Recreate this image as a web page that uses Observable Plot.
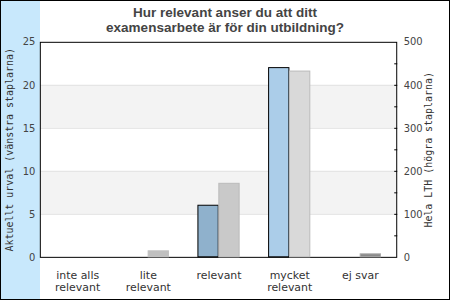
<!DOCTYPE html>
<html><head><meta charset="utf-8">
<script src="https://cdn.jsdelivr.net/npm/d3@7"></script>
<script src="https://cdn.jsdelivr.net/npm/@observablehq/plot@0.6"></script>
<style>
body{margin:0;background:#fff;}
#chart{position:relative;width:450px;height:300px;box-sizing:border-box;border:1px solid #000;overflow:hidden;background:#fff;}
#strip{position:absolute;left:0;top:0;width:39px;height:298px;background:#c8e8fc;}
#title{position:absolute;left:-1px;top:4px;width:450px;text-align:center;font:bold 13.5px "Liberation Sans",Arial,sans-serif;line-height:15px;color:#444;}
.layer{position:absolute;left:-1px;top:-1px;}
</style></head>
<body>
<div id="chart"><div id="strip"></div><div id="title">Hur relevant anser du att ditt<br>examensarbete är för din utbildning?</div></div>
<script>
const categories = ["inte alls relevant","lite relevant","relevant","mycket relevant","ej svar"];
const categoryLabels = ["inte alls\nrelevant","lite\nrelevant","relevant","mycket\nrelevant","ej svar"];
const leftValues = [0, 0, 6, 22, 0];      // Aktuellt urval
const rightValues = [0, 14, 171, 432, 7]; // Hela LTH
const leftTicks = [0, 5, 10, 15, 20, 25];
const rightTicks = [0, 100, 200, 300, 400, 500];
const rightMinorTicks = [50, 100, 150, 200, 250, 300, 350, 400, 450];
const bandRanges = [[5, 10], [15, 20]];
const gridValues = [5, 10, 15, 20];
const leftLabel = "Aktuellt urval (vänstra staplarna)";
const rightLabel = "Hela LTH (högra staplarna)";

const leftFill = ["#8fb1cc","#8fb1cc","#8fb1cc","#abcde9","#8fb1cc"];
const rightFill = ["#c8c8c8","#c0c0c0","#c9c9c9","#d9d9d9","#8a8a8a"];
const rightStroke = ["#bbbbbb","#c0c0c0","#bbbbbb","#bbbbbb","#aaaaaa"];

const W = 450, H = 300;
const margins = {marginTop: 42, marginRight: 52, marginBottom: 42, marginLeft: 40};
const bw = (W - margins.marginLeft - margins.marginRight) / categories.length;
const barW = 21;
const labelMap = new Map(categories.map((c, i) => [c, categoryLabels[i]]));

const leftData = categories.map((c, i) => ({cat: c, v: leftValues[i], i})).filter(d => d.v > 0);
const rightData = categories.map((c, i) => ({cat: c, v: rightValues[i], i})).filter(d => d.v > 0);

const font = "DejaVu Sans";
const leftPlot = Plot.plot({
  width: W, height: H, ...margins,
  style: {background: "transparent", overflow: "visible", fontFamily: font},
  x: {domain: categories, type: "band", padding: 0, axis: null},
  y: {domain: [0, 25], axis: null},
  marks: [
    Plot.rect(bandRanges, {y1: d => d[0], y2: d => d[1], fill: "#f3f3f3"}),
    Plot.ruleY(gridValues, {stroke: "#e2e2e2"}),
    Plot.barY(leftData, {x: "cat", y: "v", fill: d => leftFill[d.i], stroke: "#000", strokeWidth: 1,
      insetLeft: bw / 2 - barW, insetRight: bw / 2}),
    Plot.frame({stroke: "#000"}),
    Plot.axisY({ticks: leftTicks, tickSize: 0, tickPadding: 5, fontSize: 10, fill: "#444", fontFamily: font, label: null}),
    Plot.axisX({tickSize: 0, tickPadding: 13, fontSize: 11, fill: "#333", fontFamily: font, lineHeight: 1.1,
      tickFormat: d => labelMap.get(d), label: null}),
    Plot.text([leftLabel], {frameAnchor: "left", textAnchor: "middle", rotate: -90, dx: -31, fontFamily: "DejaVu Sans Mono", fontSize: 10, fill: "#333"})
  ]
});
leftPlot.classList.add("layer");

const rightPlot = Plot.plot({
  width: W, height: H, ...margins,
  style: {background: "transparent", overflow: "visible", fontFamily: font},
  x: {domain: categories, type: "band", padding: 0, axis: null},
  y: {domain: [0, 500], axis: null},
  marks: [
    Plot.barY(rightData, {x: "cat", y: "v", fill: d => rightFill[d.i], stroke: d => rightStroke[d.i], strokeWidth: 1,
      insetLeft: bw / 2, insetRight: bw / 2 - barW}),
    Plot.axisY({anchor: "right", ticks: rightMinorTicks, tickSize: 3, dx: -3, text: null, stroke: "#000", label: null}),
    Plot.axisY({anchor: "right", ticks: rightTicks, tickSize: 0, tickPadding: 7, fontSize: 10, fill: "#444", fontFamily: font, label: null}),
    Plot.text([rightLabel], {frameAnchor: "right", textAnchor: "middle", rotate: -90, dx: 32, fontFamily: "DejaVu Sans Mono", fontSize: 10, fill: "#333"})
  ]
});
rightPlot.classList.add("layer");

const chart = document.getElementById("chart");
chart.appendChild(leftPlot);
chart.appendChild(rightPlot);
</script>
</body></html>
